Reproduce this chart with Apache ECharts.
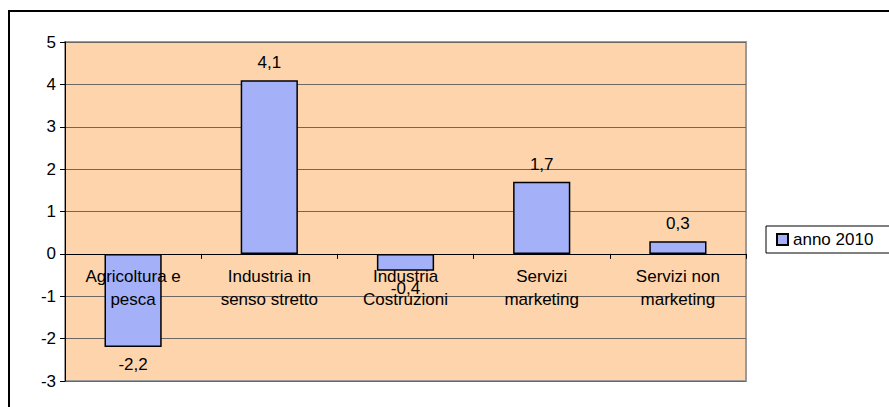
<!DOCTYPE html>
<html>
<head>
<meta charset="utf-8">
<style>
  html, body { margin: 0; padding: 0; background: #fff; }
  #chart { width: 889px; height: 407px; }
</style>
<script src="https://cdn.jsdelivr.net/npm/echarts@6/dist/echarts.min.js"></script>
</head>
<body>
<div id="chart"></div>
<script>
var categories = ['Agricoltura e\npesca', 'Industria in\nsenso stretto', 'Industria\nCostruzioni', 'Servizi\nmarketing', 'Servizi non\nmarketing'];
var values2010 = [-2.2, 4.1, -0.4, 1.7, 0.3];
var seriesName = 'anno 2010';

var font = 'Liberation Sans, Arial, sans-serif';
var fs = 17;
var chart = echarts.init(document.getElementById('chart'), null, { renderer: 'svg' });

// category names sit just under the zero line, as in the original sheet
var zeroRow = categories.map(function() { return 0; });

chart.setOption({
  animation: false,
  textStyle: { fontFamily: font },
  graphic: [{
    type: 'rect',
    shape: { x: 9, y: 11, width: 900, height: 420 },
    style: { fill: 'none', stroke: '#000', lineWidth: 2 },
    silent: true
  }],
  legend: {
    data: [seriesName],
    left: 766,
    top: 226,
    orient: 'vertical',
    padding: [5, 30, 5, 10],
    borderColor: '#000',
    borderWidth: 1,
    itemWidth: 11,
    itemHeight: 11,
    itemGap: 4,
    icon: 'rect',
    textStyle: { color: '#000', fontSize: fs, fontFamily: font }
  },
  grid: {
    left: 65, right: 143, top: 42, bottom: 26,
    show: true,
    backgroundColor: '#FDD4AB',
    borderColor: '#9a9a9a',
    borderWidth: 2
  },
  xAxis: {
    type: 'category',
    data: categories,
    axisLine: { onZero: true, lineStyle: { color: '#000', width: 1 } },
    axisTick: { show: true, interval: 0, length: 5, lineStyle: { color: '#000' } },
    axisLabel: { show: false },
    splitLine: { show: false }
  },
  yAxis: {
    type: 'value',
    min: -3,
    max: 5,
    interval: 1,
    axisLine: { show: true, lineStyle: { color: '#000' } },
    axisTick: { show: true, length: 5, lineStyle: { color: '#000' } },
    axisLabel: { color: '#000', fontSize: fs, margin: 9, fontFamily: font },
    splitLine: { lineStyle: { color: '#6e6660', width: 1 } }
  },
  series: [{
    name: seriesName,
    type: 'bar',
    data: values2010,
    barWidth: '42%',
    z: 2,
    itemStyle: { color: '#A4B0F7', borderColor: '#000', borderWidth: 1.5 },
    label: {
      show: true,
      position: 'outside',
      distance: 9,
      color: '#000',
      fontSize: fs,
      fontFamily: font,
      formatter: function(p) { return String(p.value).replace('.', ','); }
    }
  }, {
    name: 'labels',
    type: 'bar',
    data: zeroRow,
    barWidth: '42%',
    barGap: '-100%',
    silent: true,
    z: 3,
    itemStyle: { color: 'rgba(0,0,0,0)', borderWidth: 0 },
    label: {
      show: true,
      position: 'bottom',
      distance: 11,
      color: '#000',
      fontSize: fs,
      lineHeight: 23,
      fontFamily: font,
      formatter: function(p) { return categories[p.dataIndex]; }
    }
  }]
});
</script>
</body>
</html>
